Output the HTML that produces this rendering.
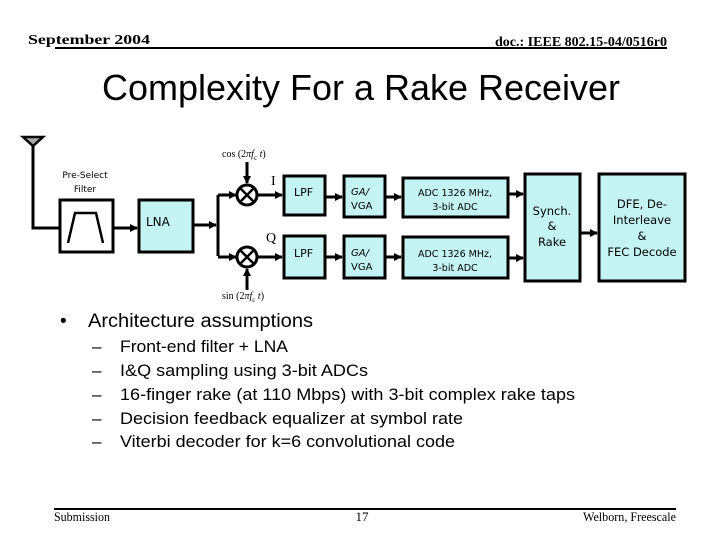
<!DOCTYPE html>
<html><head><meta charset="utf-8"><style>
html,body{margin:0;padding:0;background:#fff;}
svg{display:block;}
</style></head><body>
<svg width="720" height="540" viewBox="0 0 720 540" xmlns="http://www.w3.org/2000/svg">
<defs>
<marker id="a" markerWidth="8" markerHeight="8" refX="7" refY="4" orient="auto" markerUnits="userSpaceOnUse"><path d="M0,0 L8,4 L0,8 z" fill="#000"/></marker>
</defs>
<g font-family="Liberation Serif, serif" font-size="14" font-weight="bold">
<text x="28" y="44" textLength="122" lengthAdjust="spacingAndGlyphs">September 2004</text>
<text x="495" y="46" textLength="172" lengthAdjust="spacingAndGlyphs">doc.: IEEE 802.15-04/0516r0</text>
</g>
<line x1="55" y1="48" x2="667" y2="48" stroke="#000" stroke-width="2"/>
<text x="102" y="100" textLength="518" lengthAdjust="spacingAndGlyphs" font-family="Liberation Sans, sans-serif" font-size="36">Complexity For a Rake Receiver</text>

<g stroke="#000" stroke-width="3" fill="none">
<polygon points="23,137 43,137 33,146" fill="#aaa" stroke-width="2.5"/>
<polyline points="33,146 33,228 60,228"/>
<rect x="60" y="200" width="53" height="52" fill="#fff"/>
<polyline points="68,243 75,213 96,213 103,243" stroke-width="2.5"/>
<line x1="113" y1="228" x2="137" y2="228" marker-end="url(#a)"/>
<rect x="139" y="200" width="54" height="52" fill="#c4f3f3"/>
<line x1="193" y1="225" x2="216" y2="225" marker-end="url(#a)"/>
<polyline points="218,195 218,256"/>
<line x1="218" y1="195" x2="236" y2="195" marker-end="url(#a)"/>
<line x1="218" y1="257" x2="236" y2="257" marker-end="url(#a)"/>
<circle cx="247" cy="195" r="10" fill="#fff"/>
<circle cx="247" cy="257" r="10" fill="#fff"/>
<path d="M240,188 L254,202 M254,188 L240,202 M240,250 L254,264 M254,250 L240,264" stroke-width="2.5"/>
<line x1="247" y1="162" x2="247" y2="183" marker-end="url(#a)"/>
<line x1="247" y1="290" x2="247" y2="269" marker-end="url(#a)"/>
<line x1="257" y1="195" x2="282" y2="195" marker-end="url(#a)"/>
<line x1="257" y1="257" x2="282" y2="257" marker-end="url(#a)"/>
<rect x="284" y="176" width="41" height="39" fill="#c4f3f3"/>
<rect x="284" y="236" width="41" height="42" fill="#c4f3f3"/>
<line x1="325" y1="197" x2="342" y2="197" marker-end="url(#a)"/>
<line x1="325" y1="257" x2="342" y2="257" marker-end="url(#a)"/>
<rect x="344" y="176" width="41" height="41" fill="#c4f3f3"/>
<rect x="344" y="236" width="41" height="42" fill="#c4f3f3"/>
<line x1="385" y1="197" x2="401" y2="197" marker-end="url(#a)"/>
<line x1="385" y1="257" x2="401" y2="257" marker-end="url(#a)"/>
<rect x="403" y="178" width="105" height="39" fill="#c4f3f3"/>
<rect x="403" y="237" width="105" height="41" fill="#c4f3f3"/>
<line x1="508" y1="194" x2="523" y2="194" marker-end="url(#a)"/>
<line x1="508" y1="258" x2="523" y2="258" marker-end="url(#a)"/>
<rect x="525" y="174" width="55" height="107" fill="#c4f3f3"/>
<line x1="580" y1="233" x2="597" y2="233" marker-end="url(#a)"/>
<rect x="599" y="174" width="86" height="107" fill="#c4f3f3"/>
</g>
<g font-family="DejaVu Sans, sans-serif" fill="#000">
<text x="85" y="178" font-size="9" text-anchor="middle">Pre-Select</text>
<text x="85" y="192" font-size="9" text-anchor="middle">Filter</text>
<text x="146" y="226" font-size="12">LNA</text>
<text x="294" y="196" font-size="11">LPF</text>
<text x="294" y="257" font-size="11">LPF</text>
<text x="351" y="195" font-size="10" font-style="italic">GA/</text>
<text x="351" y="209" font-size="10">VGA</text>
<text x="351" y="256" font-size="10" font-style="italic">GA/</text>
<text x="351" y="270" font-size="10">VGA</text>
<text x="455" y="196" font-size="9.5" text-anchor="middle">ADC 1326 MHz,</text>
<text x="455" y="210" font-size="9.5" text-anchor="middle">3-bit ADC</text>
<text x="455" y="257" font-size="9.5" text-anchor="middle">ADC 1326 MHz,</text>
<text x="455" y="271" font-size="9.5" text-anchor="middle">3-bit ADC</text>
<text x="552" y="215" font-size="11.5" text-anchor="middle">Synch.</text>
<text x="552" y="230" font-size="11.5" text-anchor="middle">&amp;</text>
<text x="552" y="246" font-size="11.5" text-anchor="middle">Rake</text>
<text x="642" y="208" font-size="11.5" text-anchor="middle">DFE, De-</text>
<text x="642" y="224" font-size="11.5" text-anchor="middle">Interleave</text>
<text x="642" y="240" font-size="11.5" text-anchor="middle">&amp;</text>
<text x="642" y="256" font-size="11.5" text-anchor="middle">FEC Decode</text>
</g>
<g font-family="Liberation Serif, serif" font-size="10">
<text x="222" y="157">cos (2<tspan font-style="italic">πf</tspan><tspan font-size="7" dy="3">c</tspan><tspan dy="-3" font-style="italic"> t</tspan>)</text>
<text x="222" y="299">sin (2<tspan font-style="italic">πf</tspan><tspan font-size="7" dy="3">c</tspan><tspan dy="-3" font-style="italic"> t</tspan>)</text>
<text x="271" y="185" font-size="14">I</text>
<text x="266" y="242" font-size="14">Q</text>
</g>
<g font-family="Liberation Sans, sans-serif" fill="#000">
<text x="60" y="327" font-size="19">•</text>
<text x="88" y="327" font-size="19" textLength="225" lengthAdjust="spacingAndGlyphs">Architecture assumptions</text>
<g font-size="17">
<text x="92" y="352">–</text><text x="120" y="352" textLength="168" lengthAdjust="spacingAndGlyphs">Front-end filter + LNA</text>
<text x="92" y="376">–</text><text x="120" y="376" textLength="248" lengthAdjust="spacingAndGlyphs">I&amp;Q sampling using 3-bit ADCs</text>
<text x="92" y="400">–</text><text x="120" y="400" textLength="455" lengthAdjust="spacingAndGlyphs">16-finger rake (at 110 Mbps) with 3-bit complex rake taps</text>
<text x="92" y="424">–</text><text x="120" y="424" textLength="343" lengthAdjust="spacingAndGlyphs">Decision feedback equalizer at symbol rate</text>
<text x="92" y="447">–</text><text x="120" y="447" textLength="335" lengthAdjust="spacingAndGlyphs">Viterbi decoder for k=6 convolutional code</text>
</g>
</g>
<line x1="54" y1="509" x2="676" y2="509" stroke="#000" stroke-width="2"/>
<g font-family="Liberation Serif, serif" font-size="13">
<text x="54" y="521" textLength="56" lengthAdjust="spacingAndGlyphs">Submission</text>
<text x="362" y="521" text-anchor="middle">17</text>
<text x="583" y="521" textLength="93" lengthAdjust="spacingAndGlyphs">Welborn, Freescale</text>
</g>
</svg>
</body></html>
